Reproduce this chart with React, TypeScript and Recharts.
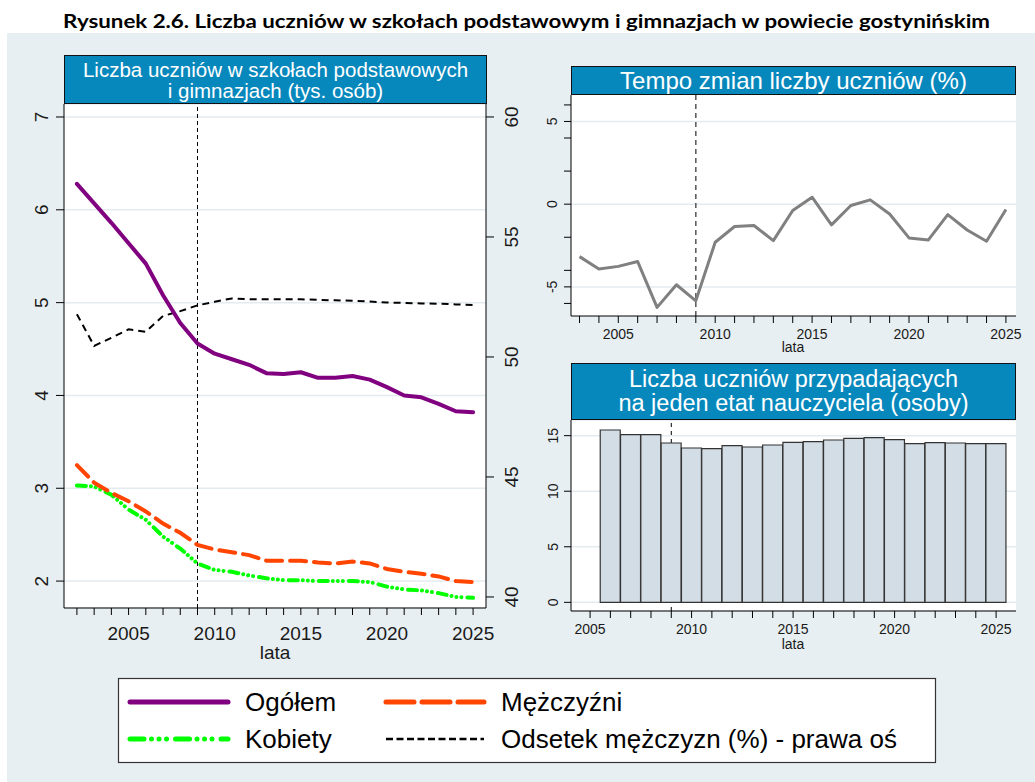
import React from 'react'
import {
  LineChart,
  Line,
  BarChart,
  Bar,
  XAxis,
  YAxis,
  CartesianGrid,
  ReferenceLine,
} from 'recharts'

// lewy wykres: liczba uczniów (tys. osób) i odsetek mężczyzn (%)
const lata = [
  2002, 2003, 2004, 2005, 2006, 2007, 2008, 2009, 2010, 2011, 2012, 2013,
  2014, 2015, 2016, 2017, 2018, 2019, 2020, 2021, 2022, 2023, 2024, 2025,
]
const ogolem = [
  6.28, 6.07, 5.86, 5.64, 5.42, 5.08, 4.78, 4.56, 4.45, 4.39, 4.33, 4.24,
  4.23, 4.25, 4.19, 4.19, 4.21, 4.17, 4.09, 4.0, 3.98, 3.91, 3.83, 3.82,
]
const mezczyzni = [
  3.25, 3.06, 2.95, 2.86, 2.75, 2.62, 2.52, 2.39, 2.34, 2.31, 2.28, 2.22,
  2.22, 2.22, 2.2, 2.19, 2.21, 2.19, 2.13, 2.1, 2.08, 2.05, 2.0, 1.99,
]
const kobiety = [
  3.03, 3.02, 2.93, 2.77, 2.66, 2.48, 2.35, 2.19, 2.12, 2.1, 2.06, 2.03,
  2.01, 2.01, 2.0, 2.0, 2.0, 1.99, 1.94, 1.91, 1.9, 1.87, 1.83, 1.82,
]
const odsetekMezczyzn = [
  51.78, 50.46, 50.8, 51.15, 51.05, 51.71, 51.91, 52.15, 52.3, 52.44, 52.4, 52.4,
  52.4, 52.4, 52.38, 52.36, 52.34, 52.31, 52.27, 52.25, 52.23, 52.22, 52.19, 52.16,
]
const lewaOsTicks = [2, 3, 4, 5, 6, 7]
const prawaOsTicks = [40, 45, 50, 55, 60]

// tempo zmian liczby uczniów (%)
const lataTempo = [
  2003, 2004, 2005, 2006, 2007, 2008, 2009, 2010, 2011, 2012, 2013, 2014,
  2015, 2016, 2017, 2018, 2019, 2020, 2021, 2022, 2023, 2024, 2025,
]
const tempo = [
  -3.17, -3.92, -3.76, -3.47, -6.24, -4.87, -5.84, -2.3, -1.35, -1.29, -2.2, -0.38,
  0.42, -1.25, -0.08, 0.26, -0.59, -2.04, -2.16, -0.63, -1.56, -2.24, -0.32,
]
const tempoTicks = [-6, -5, -4, -2, 0, 2, 4, 5, 6]
const tempoLabels = [-5, 0, 5]

// uczniowie na jeden etat nauczyciela
const lataEtat = [
  2006, 2007, 2008, 2009, 2010, 2011, 2012, 2013, 2014, 2015, 2016, 2017,
  2018, 2019, 2020, 2021, 2022, 2023, 2024, 2025,
]
const naEtat = [
  15.51, 15.09, 15.09, 14.34, 13.89, 13.83, 14.1, 13.98, 14.16, 14.4, 14.46, 14.61,
  14.76, 14.82, 14.64, 14.28, 14.37, 14.34, 14.28, 14.28,
]
const lataOsX = [
  2005, 2006, 2007, 2008, 2009, 2010, 2011, 2012, 2013, 2014, 2015, 2016,
  2017, 2018, 2019, 2020, 2021, 2022, 2023, 2024, 2025,
]
const etatTicks = [0, 5, 10, 15]

const leftData = lata.map((rok, i) => ({
  rok,
  ogolem: ogolem[i],
  mezczyzni: mezczyzni[i],
  kobiety: kobiety[i],
  odsetek: odsetekMezczyzn[i],
}))
const tempoData = lataTempo.map((rok, i) => ({ rok, tempo: tempo[i] }))
const etatData = lataEtat.map((rok, i) => ({ rok, naEtat: naEtat[i] }))

const FONT = '"Liberation Sans", Arial, sans-serif'
const INK = '#1a1a1a'
const PANEL = '#e8eff2'
const TITLE_BG = '#0788bd'
const GRID = '#e3ebef'

const yTick = (dx: number, size: number, show?: number[]) => (p: any) => {
  const v = p.payload.value
  if (show && !show.includes(v)) return <g />
  const x = p.x + dx
  return (
    <text
      x={x}
      y={p.y}
      transform={`rotate(-90 ${x} ${p.y})`}
      textAnchor="middle"
      fontSize={size}
      fontFamily={FONT}
      fill={INK}
    >
      {v}
    </text>
  )
}

const yearTick = (dy: number, size: number) => (p: any) => {
  const v = p.payload.value
  if (v % 5 !== 0) return <g />
  return (
    <text x={p.x} y={p.y + dy} textAnchor="middle" fontSize={size} fontFamily={FONT} fill={INK}>
      {v}
    </text>
  )
}

function TitleBox({ left, top, width, height, size, lh, lines }: any) {
  return (
    <div
      style={{
        position: 'absolute',
        left,
        top,
        width,
        height,
        boxSizing: 'border-box',
        border: '1.5px solid #111',
        background: TITLE_BG,
        color: '#fff',
        fontFamily: FONT,
        fontSize: size,
        lineHeight: `${lh}px`,
        textAlign: 'center',
        display: 'flex',
        flexDirection: 'column',
        justifyContent: 'center',
        zIndex: 2,
      }}
    >
      {lines.map((t: string) => (
        <div key={t}>{t}</div>
      ))}
    </div>
  )
}

function AxisTitle({ x, y, size, text }: any) {
  return (
    <div
      style={{
        position: 'absolute',
        left: x,
        top: y,
        transform: 'translate(-50%, -50%)',
        fontFamily: FONT,
        fontSize: size,
        lineHeight: 1,
        color: INK,
      }}
    >
      {text}
    </div>
  )
}

function Legend() {
  const rows = [
    { y: 24, x: 9, color: '#800080', w: 5, dash: undefined, label: 'Ogółem' },
    { y: 24, x: 265, color: '#ff4500', w: 5, dash: '28 8', label: 'Mężczyźni' },
    { y: 61, x: 9, color: '#00ff00', w: 5, dash: '14 7.5 0.01 7.5 0.01 7.5 0.01 9', label: 'Kobiety' },
    { y: 61, x: 265, color: '#000', w: 2.5, dash: '7 3.5', label: 'Odsetek mężczyzn (%) - prawa oś' },
  ]
  return (
    <svg
      width={818}
      height={85}
      style={{ position: 'absolute', left: 118, top: 678, overflow: 'visible' }}
    >
      <rect x={0.5} y={0.5} width={817} height={84} fill="#fff" stroke="#333" strokeWidth={1.2} />
      {rows.map((r) => (
        <g key={r.label}>
          <line
            x1={r.x + 3}
            x2={r.x + 101}
            y1={r.y}
            y2={r.y}
            stroke={r.color}
            strokeWidth={r.w}
            strokeDasharray={r.dash}
            strokeLinecap={r.w > 3 ? 'round' : 'butt'}
          />
          <text x={r.x + 118} y={r.y + 9} fontSize={26} fontFamily={FONT} fill="#000">
            {r.label}
          </text>
        </g>
      ))}
    </svg>
  )
}

export default function App() {
  return (
    <div
      style={{
        position: 'absolute',
        left: 0,
        top: 0,
        width: 1035,
        height: 782,
        background: '#fff',
        overflow: 'hidden',
      }}
    >
      <div style={{ position: 'absolute', left: 7, top: 33, width: 1028, height: 749, background: PANEL }} />
      <svg width={1035} height={33} style={{ position: 'absolute', left: 0, top: 0 }}>
        <text
          x={63}
          y={28}
          textLength={927}
          lengthAdjust="spacingAndGlyphs"
          fontSize={19}
          fontWeight="bold"
          fontFamily="Lato, 'Open Sans', sans-serif"
          fill="#000"
        >
          Rysunek 2.6. Liczba uczniów w szkołach podstawowym i gimnazjach w powiecie gostynińskim
        </text>
      </svg>

      {/* lewy wykres */}
      <div style={{ position: 'absolute', left: 8, top: 55 }}>
        <LineChart width={528} height={613} data={leftData} margin={{ top: 49, right: 0, bottom: 0, left: 0 }}>
          <CartesianGrid yAxisId="left" vertical={false} fill="#fff" stroke={GRID} strokeWidth={1.5} />
          <XAxis
            dataKey="rok"
            type="number"
            domain={[2001.25, 2025.75]}
            ticks={lata}
            interval={0}
            allowDataOverflow
            height={60}
            stroke="#000"
            tickSize={7}
            tickMargin={2}
            tick={yearTick(23, 19)}
          />
          <YAxis
            yAxisId="left"
            orientation="left"
            type="number"
            domain={[1.71, 7.14]}
            ticks={lewaOsTicks}
            interval={0}
            allowDataOverflow
            width={56}
            stroke="#000"
            tickSize={8}
            tickMargin={2}
            tick={yTick(-5.5, 19)}
          />
          <YAxis
            yAxisId="right"
            orientation="right"
            type="number"
            domain={[39.54, 60.54]}
            ticks={prawaOsTicks}
            interval={0}
            allowDataOverflow
            width={50}
            stroke="#000"
            tickSize={8}
            tickMargin={2}
            tick={yTick(22, 19)}
          />
          <ReferenceLine yAxisId="left" x={2009} stroke="#000" strokeWidth={1} strokeDasharray="4 3" />
          <Line yAxisId="right" dataKey="odsetek" stroke="#000" strokeWidth={2} strokeDasharray="7 5" dot={false} activeDot={false} isAnimationActive={false} />
          <Line yAxisId="left" dataKey="kobiety" stroke="#00ff00" strokeWidth={4} strokeLinecap="round" strokeDasharray="9 5 0.01 5 0.01 5 0.01 6" dot={false} activeDot={false} isAnimationActive={false} />
          <Line yAxisId="left" dataKey="mezczyzni" stroke="#ff4500" strokeWidth={4} strokeLinecap="round" strokeDasharray="16 8" dot={false} activeDot={false} isAnimationActive={false} />
          <Line yAxisId="left" dataKey="ogolem" stroke="#800080" strokeWidth={4} strokeLinecap="round" strokeLinejoin="round" dot={false} activeDot={false} isAnimationActive={false} />
        </LineChart>
      </div>
      <TitleBox
        left={64}
        top={55}
        width={423}
        height={49}
        size={20.5}
        lh={21}
        lines={['Liczba uczniów w szkołach podstawowych', 'i gimnazjach (tys. osób)']}
      />
      <AxisTitle x={275} y={652} size={19} text="lata" />

      {/* tempo zmian */}
      <div style={{ position: 'absolute', left: 531, top: 66 }}>
        <LineChart width={500} height={290} data={tempoData} margin={{ top: 29, right: 15, bottom: 0, left: 0 }}>
          <CartesianGrid vertical={false} horizontalValues={tempoLabels} fill="#fff" stroke={GRID} strokeWidth={1.5} />
          <XAxis
            dataKey="rok"
            type="number"
            domain={[2002.56, 2025.52]}
            ticks={lataTempo}
            interval={0}
            allowDataOverflow
            height={40}
            stroke="#000"
            tickSize={7}
            tickMargin={2}
            tick={yearTick(14, 14)}
          />
          <YAxis
            type="number"
            domain={[-6.76, 6.6]}
            ticks={tempoTicks}
            interval={0}
            allowDataOverflow
            width={40}
            stroke="#000"
            tickSize={7}
            tickMargin={2}
            tick={yTick(-5, 14, tempoLabels)}
          />
          <ReferenceLine x={2009} stroke="#555" strokeWidth={1.5} strokeDasharray="5 4" />
          <Line dataKey="tempo" stroke="#808080" strokeWidth={3} strokeLinejoin="round" dot={false} activeDot={false} isAnimationActive={false} />
        </LineChart>
      </div>
      <TitleBox left={571} top={66} width={445} height={29} size={24} lh={26} lines={['Tempo zmian liczby uczniów (%)']} />
      <AxisTitle x={793} y={347} size={14} text="lata" />

      {/* uczniowie na etat */}
      <div style={{ position: 'absolute', left: 531, top: 363 }}>
        <BarChart
          width={500}
          height={288}
          data={etatData}
          margin={{ top: 57, right: 15, bottom: 0, left: 0 }}
          barCategoryGap={0}
          barGap={0}
        >
          <CartesianGrid vertical={false} fill="#fff" stroke={GRID} strokeWidth={1.5} />
          <XAxis
            dataKey="rok"
            type="number"
            domain={[2004.06, 2025.98]}
            ticks={lataOsX}
            interval={0}
            allowDataOverflow
            height={40}
            stroke="#000"
            tickSize={7}
            tickMargin={2}
            tick={yearTick(14, 14)}
          />
          <YAxis
            type="number"
            domain={[-0.78, 16.41]}
            ticks={etatTicks}
            interval={0}
            allowDataOverflow
            width={40}
            stroke="#000"
            tickSize={7}
            tickMargin={2}
            tick={yTick(-4, 14)}
          />
          <ReferenceLine x={2009} stroke="#000" strokeWidth={1} strokeDasharray="4 4" zIndex={250} />
          <Bar dataKey="naEtat" fill="#d3dde5" stroke="#333" strokeWidth={1.2} isAnimationActive={false} />
        </BarChart>
      </div>
      <TitleBox
        left={571}
        top={363}
        width={445}
        height={57}
        size={23.5}
        lh={23.5}
        lines={['Liczba uczniów przypadających', 'na jeden etat nauczyciela (osoby)']}
      />
      <AxisTitle x={793} y={644} size={14} text="lata" />

      <Legend />
    </div>
  )
}
